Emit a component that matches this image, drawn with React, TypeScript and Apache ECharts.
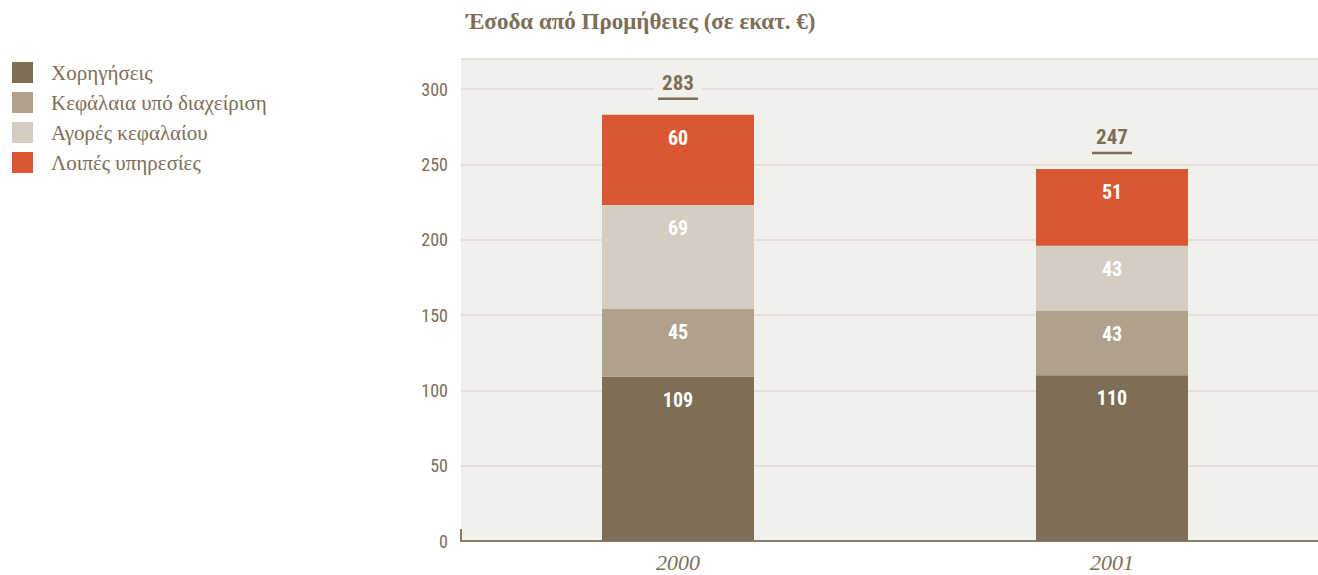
import React, { useEffect, useRef } from "react";
import * as echarts from "echarts";

const categories = ["2000", "2001"];
const seriesNames = ["Χορηγήσεις", "Κεφάλαια υπό διαχείριση", "Αγορές κεφαλαίου", "Λοιπές υπηρεσίες"];
const loans = [109, 110];
const funds = [45, 43];
const capitalMarkets = [69, 43];
const otherServices = [60, 51];
const totals = [283, 247];
const yTicks = [0, 50, 100, 150, 200, 250, 300];

const colors = ["#7e6e55", "#b0a18c", "#d5cdc2", "#d95733"];
const textColor = "#7d6e58";
const bg = "#f1f0ec";
const narrow = "'Liberation Sans Narrow', 'Roboto Condensed', 'DejaVu Sans Condensed', Roboto, sans-serif";
const serif = "'Liberation Serif', 'Times New Roman', serif";

export default function App() {
  const ref = useRef<HTMLDivElement>(null);
  useEffect(() => {
    document.body.style.margin = "0";
    const chart = echarts.init(ref.current!, null, { renderer: "svg" });
    const values = [loans, funds, capitalMarkets, otherServices];
    const barSeries = values.map((v, i) => ({
      name: seriesNames[i],
      type: "bar",
      stack: "total",
      barWidth: 152,
      data: v,
      itemStyle: { color: colors[i] },
      label: {
        show: true,
        position: "insideTop",
        distance: 13,
        color: "#ffffff",
        fontFamily: narrow,
        fontWeight: "bold",
        fontSize: 20,
      },
      z: 2,
    }));
    chart.setOption({
      animation: false,
      title: {
        text: "Έσοδα από Προμήθειες (σε εκατ. €)",
        left: 466,
        top: 10,
        padding: 0,
        textStyle: { fontFamily: serif, fontWeight: "bold", fontSize: 23, color: textColor },
      },
      legend: {
        orient: "vertical",
        left: 12,
        top: 62,
        padding: 0,
        itemWidth: 21,
        itemHeight: 21,
        itemGap: 9,
        icon: "rect",
        data: seriesNames,
        textStyle: { fontFamily: serif, fontSize: 21, color: textColor, padding: [0, 0, 0, 13] },
      },
      grid: {
        left: 461,
        right: -11,
        top: 59,
        bottom: 34,
        outerBoundsMode: "none",
        containLabel: false,
        show: true,
        backgroundColor: bg,
        borderWidth: 0,
      },
      xAxis: {
        type: "category",
        data: categories,
        axisLine: { lineStyle: { color: "#8a7b66", width: 2 } },
        axisTick: { show: false },
        axisLabel: { fontFamily: serif, fontStyle: "italic", fontSize: 22, color: textColor, margin: 10 },
      },
      yAxis: {
        type: "value",
        min: yTicks[0],
        max: 320,
        interval: yTicks[1] - yTicks[0],
        axisLine: { show: false },
        axisTick: { show: false },
        axisLabel: { showMaxLabel: false, fontFamily: narrow, fontSize: 18, color: textColor, margin: 13 },
        splitLine: { lineStyle: { color: "#e3e0d8", width: 2 } },
      },
      series: [
        ...barSeries,
        {
          type: "custom",
          name: "total",
          data: totals.map((t, i) => [i, t]),
          encode: { x: 0, y: 1 },
          z: 5,
          renderItem: (params: any, api: any) => {
            const p = api.coord([api.value(0), api.value(1)]);
            return {
              type: "group",
              children: [
                { type: "rect", shape: { x: p[0] - 24, y: p[1] - 45, width: 48, height: 27 }, style: { fill: bg } },
                {
                  type: "text",
                  x: p[0],
                  y: p[1] - 32,
                  style: {
                    text: String(api.value(1)),
                    textAlign: "center",
                    textVerticalAlign: "middle",
                    fill: textColor,
                    font: `bold 21px ${narrow}`,
                  },
                },
                {
                  type: "line",
                  shape: { x1: p[0] - 20, y1: p[1] - 16, x2: p[0] + 20, y2: p[1] - 16 },
                  style: { stroke: textColor, lineWidth: 2.5 },
                },
              ],
            };
          },
        },
      ],
      graphic: [
        {
          type: "line",
          shape: { x1: 461, y1: 529, x2: 461, y2: 541 },
          style: { stroke: "#8a7b66", lineWidth: 2 },
        },
      ],
    });
    return () => chart.dispose();
  }, []);
  return <div ref={ref} style={{ width: 1318, height: 575 }} />;
}
